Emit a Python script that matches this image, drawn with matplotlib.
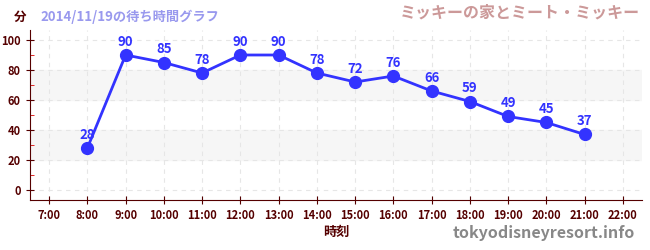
import numpy as np
import matplotlib.pyplot as plt

plt.rcParams['font.family'] = ['Noto Sans CJK JP', 'DejaVu Sans']

# data
hours = [8, 9, 10, 11, 12, 13, 14, 15, 16, 17, 18, 19, 20, 21]
waits = [28, 90, 85, 78, 90, 90, 78, 72, 76, 66, 59, 49, 45, 37]
xticks = list(range(7, 23))
xlabels = ['%d:00' % h for h in xticks]
yticks = [0, 20, 40, 60, 80, 100]

dark = '#550000'
blue = '#3333ff'

fig = plt.figure(figsize=(6.5, 2.5), dpi=100)
ax = fig.add_axes([30/650, 50/250, 612/650, 170/250])

ax.set_xlim(6.5, 22.5)
ax.set_ylim(-6.67, 106.67)

# shaded bands
ax.axhspan(20, 40, color='#f6f6f6', zorder=0)
ax.axhspan(60, 80, color='#f6f6f6', zorder=0)

ax.grid(True, color='#e6e6e6', linestyle=(0, (4, 4)), linewidth=0.8, zorder=0)

ax.plot(hours, waits, color=blue, lw=2, marker='o', ms=8.5, zorder=3)
for h, w in zip(hours, waits):
    ax.annotate(str(w), (h, w), xytext=(0, 4.5), textcoords='offset points',
                ha='center', va='bottom', color=blue, fontsize=9.5, fontweight='bold')

ax.set_xticks(xticks)
ax.set_xticklabels(xlabels)
ax.set_yticks(yticks)
ax.set_yticks([10, 30, 50, 70, 90], minor=True)
ax.tick_params(axis='both', which='major', direction='inout', length=6, color=dark,
               labelcolor=dark, labelsize=8)
ax.tick_params(axis='y', which='minor', direction='in', length=3, color='#dd0000')
for lab in ax.get_xticklabels() + ax.get_yticklabels():
    lab.set_fontweight('bold')

for s in ['top', 'right']:
    ax.spines[s].set_visible(False)
ax.spines['left'].set_color(dark)
ax.spines['bottom'].set_color(dark)

fig.text(14/650, 1 - 17/250, '分', color=dark, fontsize=9, fontweight='bold', va='center')
fig.text(40/650, 1 - 17/250, '2014/11/19の待ち時間グラフ', color='#9999ee', fontsize=9.5,
         fontweight='bold', va='center')
fig.text(640/650, 1 - 13/250, 'ミッキーの家とミート・ミッキー', color='#cc9999', fontsize=11.5,
         fontweight='bold', va='center', ha='right')
fig.text(336/650, 1 - 232/250, '時刻', color=dark, fontsize=9.5, fontweight='bold',
         va='center', ha='center')
fig.text(635/650, 1 - 233/250, 'tokyodisneyresort.info', color='#888888', fontsize=11.5,
         fontweight='bold', va='center', ha='right')

fig.savefig('out.png', dpi=100)
